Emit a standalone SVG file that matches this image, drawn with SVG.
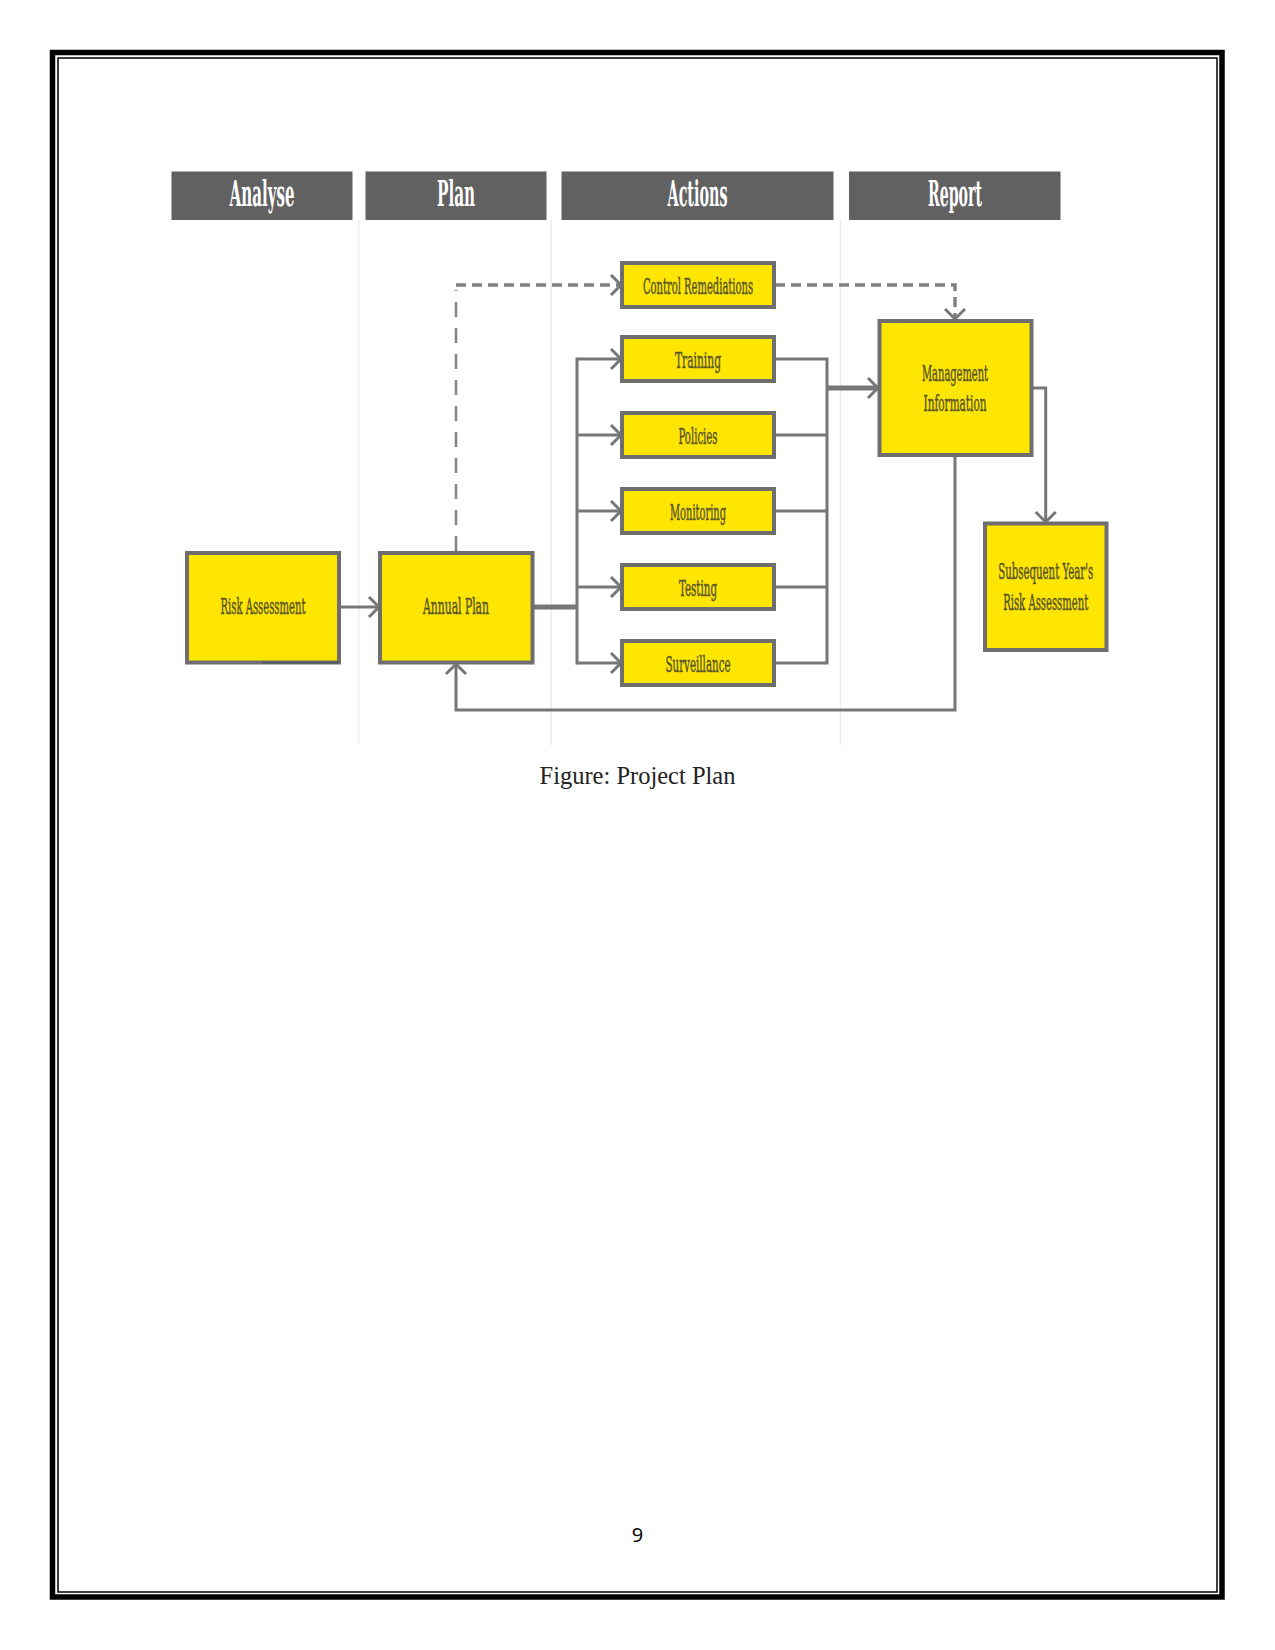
<svg xmlns="http://www.w3.org/2000/svg" width="1275" height="1650" viewBox="0 0 1275 1650">
<style>
.hdr{fill:#616161}
.htx{fill:#ffffff;font-family:'DejaVu Serif Condensed','DejaVu Serif',serif;font-weight:bold;font-size:35px;font-stretch:condensed;text-anchor:middle}
.box{fill:#FFE600;stroke:#6e6e6e;stroke-width:4}
.ntx{fill:#58542c;stroke:#58542c;stroke-width:0.5;font-family:'DejaVu Serif Condensed','DejaVu Serif',serif;font-size:23px;font-stretch:condensed;text-anchor:middle}
.lane{stroke:#ececec;stroke-width:1.5;fill:none}
.con{stroke:#777777;stroke-width:3;fill:none}
.thick{stroke:#777777;stroke-width:5;fill:none}
.dh{stroke:#808080;stroke-width:3.5;fill:none;stroke-dasharray:10 6}
.dv{stroke:#858585;stroke-width:2.5;fill:none;stroke-dasharray:15 11}
</style>
<defs>
<marker id="arr" markerUnits="userSpaceOnUse" markerWidth="16" markerHeight="26" viewBox="0 0 16 26" refX="12" refY="13" orient="auto">
<path d="M2,3 L12,13 L2,23" fill="none" stroke="#777777" stroke-width="3"/>
</marker>
</defs>
<rect width="1275" height="1650" fill="#ffffff"/>
<rect x="52.5" y="52.5" width="1169.5" height="1544.5" fill="none" stroke="#000" stroke-width="5.5"/>
<rect x="58" y="58" width="1159" height="1534" fill="none" stroke="#000" stroke-width="1.5"/>

<g id="lanes">
<line class="lane" x1="358.7" y1="220" x2="358.7" y2="745"/>
<line class="lane" x1="551.3" y1="220" x2="551.3" y2="745"/>
<line class="lane" x1="840.5" y1="220" x2="840.5" y2="745"/>
</g>

<g id="header-analyse"><rect class="hdr" x="171.5" y="171.5" width="181" height="48.5"/><text class="htx" x="262" y="206" textLength="65" lengthAdjust="spacingAndGlyphs">Analyse</text></g>
<g id="header-plan"><rect class="hdr" x="365.5" y="171.5" width="181" height="48.5"/><text class="htx" x="456" y="206" textLength="38" lengthAdjust="spacingAndGlyphs">Plan</text></g>
<g id="header-actions"><rect class="hdr" x="561.5" y="171.5" width="272" height="48.5"/><text class="htx" x="697.5" y="206" textLength="60" lengthAdjust="spacingAndGlyphs">Actions</text></g>
<g id="header-report"><rect class="hdr" x="849" y="171.5" width="211.5" height="48.5"/><text class="htx" x="955" y="206" textLength="54" lengthAdjust="spacingAndGlyphs">Report</text></g>

<g id="connectors">
<line class="con" x1="339" y1="607" x2="379" y2="607" marker-end="url(#arr)"/>
<line class="thick" x1="533" y1="607" x2="577" y2="607"/>
<line class="con" x1="577" y1="357.5" x2="577" y2="664.5"/>
<line class="con" x1="577" y1="359" x2="621" y2="359" marker-end="url(#arr)"/>
<line class="con" x1="577" y1="435" x2="621" y2="435" marker-end="url(#arr)"/>
<line class="con" x1="577" y1="511" x2="621" y2="511" marker-end="url(#arr)"/>
<line class="con" x1="577" y1="587" x2="621" y2="587" marker-end="url(#arr)"/>
<line class="con" x1="577" y1="663" x2="621" y2="663" marker-end="url(#arr)"/>
<polyline class="con" points="774,359 827,359 827,663 774,663"/>
<line class="con" x1="774" y1="435" x2="827" y2="435"/>
<line class="con" x1="774" y1="511" x2="827" y2="511"/>
<line class="con" x1="774" y1="587" x2="827" y2="587"/>
<line class="thick" x1="827" y1="388" x2="878" y2="388" marker-end="url(#arr)"/>
<polyline class="con" points="1032,388 1045.7,388 1045.7,522" marker-end="url(#arr)"/>
<polyline class="con" points="955,456 955,710 456,710 456,664" marker-end="url(#arr)"/>
<line class="dv" x1="456" y1="551" x2="456" y2="290"/>
<polyline class="dh" points="456,285 621,285" marker-end="url(#arr)"/>
<polyline class="dh" points="775,285 955,285 955,319" marker-end="url(#arr)"/>
</g>

<g id="node-risk-assessment"><rect class="box" x="187" y="553" width="152" height="109.5"/><line x1="262" y1="662.5" x2="339" y2="662.5" stroke="#5a5a5a" stroke-width="2"/><text class="ntx" x="263" y="614" textLength="85" lengthAdjust="spacingAndGlyphs">Risk Assessment</text></g>
<g id="node-annual-plan"><rect class="box" x="380" y="553" width="152.5" height="109.5"/><text class="ntx" x="456" y="614" textLength="66" lengthAdjust="spacingAndGlyphs">Annual Plan</text></g>
<g id="node-control-remediations"><rect class="box" x="622" y="263" width="152" height="44"/><text class="ntx" x="698" y="293.5" textLength="110" lengthAdjust="spacingAndGlyphs">Control Remediations</text></g>
<g id="node-training"><rect class="box" x="622" y="337" width="152" height="44"/><text class="ntx" x="698" y="367.5" textLength="46" lengthAdjust="spacingAndGlyphs">Training</text></g>
<g id="node-policies"><rect class="box" x="622" y="413" width="152" height="44"/><text class="ntx" x="698" y="443.5" textLength="39" lengthAdjust="spacingAndGlyphs">Policies</text></g>
<g id="node-monitoring"><rect class="box" x="622" y="489" width="152" height="44"/><text class="ntx" x="698" y="519.5" textLength="56" lengthAdjust="spacingAndGlyphs">Monitoring</text></g>
<g id="node-testing"><rect class="box" x="622" y="565" width="152" height="44"/><text class="ntx" x="698" y="595.5" textLength="38" lengthAdjust="spacingAndGlyphs">Testing</text></g>
<g id="node-surveillance"><rect class="box" x="622" y="641" width="152" height="44"/><text class="ntx" x="698" y="671.5" textLength="65" lengthAdjust="spacingAndGlyphs">Surveillance</text></g>
<g id="node-management-information"><rect class="box" x="879.5" y="321" width="152" height="134"/><text class="ntx" x="955" y="380.5" textLength="66" lengthAdjust="spacingAndGlyphs">Management</text><text class="ntx" x="955" y="411" textLength="63" lengthAdjust="spacingAndGlyphs">Information</text></g>
<g id="node-subsequent-risk-assessment"><rect class="box" x="985" y="523.5" width="121.5" height="126.5"/><text class="ntx" x="1045.7" y="578.5" textLength="95" lengthAdjust="spacingAndGlyphs">Subsequent Year's</text><text class="ntx" x="1045.7" y="609.5" textLength="85" lengthAdjust="spacingAndGlyphs">Risk Assessment</text></g>

<text x="637.5" y="784" font-family="'Liberation Serif',serif" font-size="24.5" fill="#222" text-anchor="middle">Figure: Project Plan</text>
<text x="637.5" y="1541.5" font-family="'Open Sans','Liberation Sans',sans-serif" font-size="20" fill="#000" text-anchor="middle">9</text>
</svg>
